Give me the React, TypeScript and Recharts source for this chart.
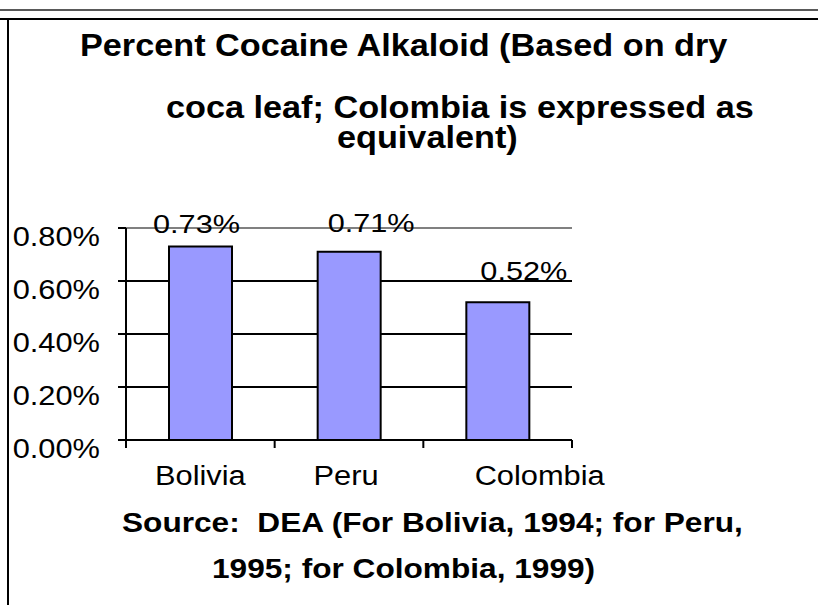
import React from 'react';
import { BarChart, Bar, XAxis, YAxis, CartesianGrid, LabelList, ReferenceLine } from 'recharts';

const categories = ['Bolivia', 'Peru', 'Colombia'];
const percentValues = [0.73, 0.71, 0.52];
const yTicks = [0, 0.2, 0.4, 0.6, 0.8];
const boundaryTicks = [0, 1, 2, 3];
const titleLines = [
  'Percent Cocaine Alkaloid (Based on dry',
  'coca leaf; Colombia is expressed as',
  'equivalent)',
];
const sourceLines = ['Source:  DEA (For Bolivia, 1994; for Peru,', '1995; for Colombia, 1999)'];

const data = categories.map((name, i) => ({ name, value: percentValues[i], slot: i + 0.5 }));

// styling / layout constants
const FONT = "'Liberation Sans', Arial, Helvetica, sans-serif";
const titlePos = [
  { x: 80, y: 56 },
  { x: 166, y: 118 },
  { x: 337, y: 148 },
];
const sourcePos = [
  { x: 122, y: 532 },
  { x: 212, y: 578 },
];
const xLabelNudge = [0, -3, 42];
const valueLabelNudge = [
  { dx: -4, dy: -14 },
  { dx: 22, dy: -20 },
  { dx: 26, dy: -22 },
];

function StretchText(props: {
  x: number;
  y: number;
  size: number;
  sx: number;
  anchor?: 'start' | 'middle' | 'end';
  bold?: boolean;
  children: React.ReactNode;
}) {
  const { x, y, size, sx, anchor = 'start', bold = false, children } = props;
  return (
    <text
      transform={`translate(${x},${y}) scale(${sx},1)`}
      textAnchor={anchor}
      fontSize={size}
      fontWeight={bold ? 'bold' : 'normal'}
      fontFamily={FONT}
      fill="#000"
      style={{ whiteSpace: 'pre' }}
    >
      {children}
    </text>
  );
}

const fmt = (v: number) => `${v.toFixed(2)}%`;

function YTick(props: any) {
  const { x, y, payload } = props;
  return (
    <StretchText x={x} y={y + 18} size={28} sx={1.1} anchor="end">
      {fmt(Number(payload.value))}
    </StretchText>
  );
}

function XTick(props: any) {
  const { x, y, payload, index } = props;
  return (
    <StretchText x={x + (xLabelNudge[index] || 0)} y={y + 37} size={28} sx={1.1} anchor="middle">
      {payload.value}
    </StretchText>
  );
}

function EmptyTick() {
  return <g />;
}

function ValueLabel(props: any) {
  const { x, y, width, value, index } = props;
  const n = valueLabelNudge[index] || { dx: 0, dy: -16 };
  return (
    <StretchText x={x + width / 2 + n.dx} y={y + n.dy} size={26} sx={1.18} anchor="middle">
      {fmt(Number(value))}
    </StretchText>
  );
}

export default function App() {
  return (
    <div style={{ position: 'absolute', left: 0, top: 0, width: 818, height: 605, background: '#fff' }}>
      <div style={{ position: 'absolute', left: 0, top: 0 }}>
        <BarChart
          width={818}
          height={605}
          data={data}
          margin={{ top: 228, right: 246, bottom: 107, left: 0 }}
        >
          <CartesianGrid
            xAxisId="b_cat"
            yAxisId="left"
            horizontal
            vertical={false}
            stroke="#000"
            strokeWidth={2}
          />
          <XAxis
            xAxisId="a_frame"
            type="number"
            dataKey="slot"
            domain={[0, 3]}
            ticks={boundaryTicks}
            height={8}
            tickSize={8}
            tick={<EmptyTick />}
            tickLine={{ stroke: '#000', strokeWidth: 2 }}
            axisLine={{ stroke: '#000', strokeWidth: 2 }}
            allowDataOverflow
          />
          <XAxis
            xAxisId="b_cat"
            dataKey="name"
            height={50}
            tickSize={0}
            tickMargin={0}
            tickLine={false}
            axisLine={false}
            interval={0}
            tick={<XTick />}
          />
          <YAxis
            yAxisId="left"
            width={126}
            domain={[0, 0.8]}
            ticks={yTicks}
            interval={0}
            tickSize={8}
            tickMargin={18}
            tickLine={{ stroke: '#000', strokeWidth: 2 }}
            axisLine={{ stroke: '#000', strokeWidth: 2 }}
            tick={<YTick />}
          />
          <YAxis
            yAxisId="right"
            orientation="right"
            width={0}
            domain={[0, 0.8]}
            tick={false}
            tickLine={false}
            axisLine={{ stroke: '#808080', strokeWidth: 2 }}
          />
          <ReferenceLine xAxisId="b_cat" yAxisId="left" y={0.8} stroke="#808080" strokeWidth={2} />
          <Bar
            xAxisId="b_cat"
            yAxisId="left"
            dataKey="value"
            fill="#9999FF"
            stroke="#000"
            strokeWidth={2}
            barSize={63}
            isAnimationActive={false}
          >
            <LabelList dataKey="value" content={<ValueLabel />} />
          </Bar>
        </BarChart>
      </div>
      <svg
        width={818}
        height={605}
        style={{ position: 'absolute', left: 0, top: 0, pointerEvents: 'none' }}
      >
        <line x1={0} y1={10} x2={818} y2={10} stroke="#222" strokeWidth={1.5} />
        <line x1={0} y1={19} x2={818} y2={19} stroke="#000" strokeWidth={2} />
        <line x1={8} y1={19} x2={8} y2={605} stroke="#000" strokeWidth={2} />
        {titleLines.map((t, i) => (
          <StretchText key={t} x={titlePos[i].x} y={titlePos[i].y} size={31.7} sx={1.08} bold>
            {t}
          </StretchText>
        ))}
        {sourceLines.map((t, i) => (
          <StretchText key={t} x={sourcePos[i].x} y={sourcePos[i].y} size={28.5} sx={1.11} bold>
            {t}
          </StretchText>
        ))}
      </svg>
    </div>
  );
}
